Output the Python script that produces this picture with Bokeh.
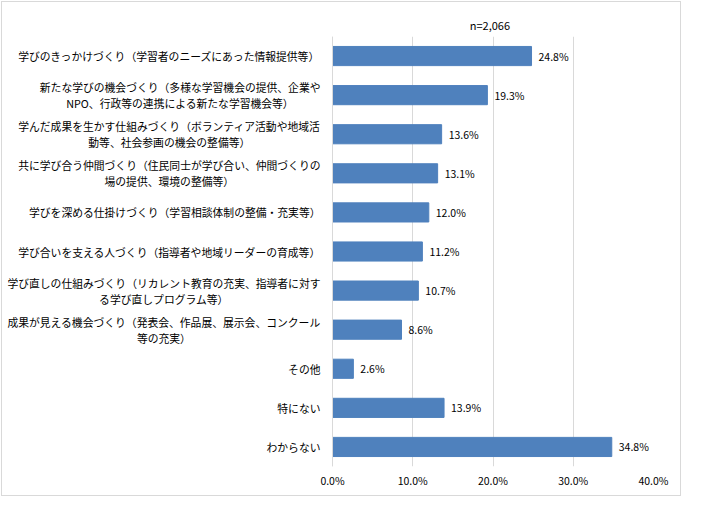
import unicodedata
from bokeh.plotting import figure
from bokeh.models import (ColumnDataSource, LabelSet, Label, Span, FactorRange,
                          FixedTicker, PrintfTickFormatter, Range1d)
from bokeh.core.properties import value
from bokeh.embed import file_html
from bokeh.resources import INLINE

# ---------------- data ----------------
categories = [
    "学びのきっかけづくり（学習者のニーズにあった情報提供等）",
    "新たな学びの機会づくり（多様な学習機会の提供、企業や\nNPO、行政等の連携による新たな学習機会等）",
    "学んだ成果を生かす仕組みづくり（ボランティア活動や地域活\n動等、社会参画の機会の整備等）",
    "共に学び合う仲間づくり（住民同士が学び合い、仲間づくりの\n場の提供、環境の整備等）",
    "学びを深める仕掛けづくり（学習相談体制の整備・充実等）",
    "学び合いを支える人づくり（指導者や地域リーダーの育成等）",
    "学び直しの仕組みづくり（リカレント教育の充実、指導者に対す\nる学び直しプログラム等）",
    "成果が見える機会づくり（発表会、作品展、展示会、コンクール\n等の充実）",
    "その他",
    "特にない",
    "わからない",
]
values = [24.8, 19.3, 13.6, 13.1, 12.0, 11.2, 10.7, 8.6, 2.6, 13.9, 34.8]
x_ticks = [0, 10, 20, 30, 40]
x_max = 40
title_text = "n=2,066"

# ---------------- style / layout ----------------
FONT = "Noto Sans CJK JP"
CAT_FS = 10.8
NUM_FS = "10.5px"
TITLE_FS = 11
BAR_COLOR = "#4F81BD"
GRID_COLOR = "#D9D9D9"

W, H = 680, 495
LABEL_AREA = 330      # px left of the value axis reserved for category labels
PLOT_W = 321          # px width of the 0..40% area
RIGHT = W - LABEL_AREA - PLOT_W


def text_width(s, fs, half=0.55):
    w = 0.0
    for c in s:
        w += fs if unicodedata.east_asian_width(c) in ("W", "F") else half * fs
    return w


# the frame also covers the label area, so labels are not clipped
x_start = -x_max * LABEL_AREA / PLOT_W

p = figure(
    width=W, height=H,
    x_range=Range1d(x_start, x_max),
    y_range=FactorRange(factors=list(reversed(categories)), range_padding=0),
    output_backend="svg", toolbar_location=None,
    min_border_left=0, min_border_right=RIGHT,
    min_border_top=34, min_border_bottom=31,
    title=title_text,
)
p.styles = {"margin-left": "1px", "margin-top": "1px",
            "border": "1px solid #D9D9D9"}
p.outline_line_color = None
p.background_fill_color = "white"
p.border_fill_color = "white"

src = ColumnDataSource(dict(
    cat=categories, val=values,
    lbl=[f"{v:.1f}%" for v in values],
))

p.hbar(y="cat", left=0, right="val", height=0.49, source=src,
       fill_color=BAR_COLOR, line_color=BAR_COLOR)

# grid & axes
p.ygrid.grid_line_color = None
p.xgrid.grid_line_color = GRID_COLOR
p.xgrid.ticker = FixedTicker(ticks=x_ticks)
p.yaxis.visible = False
p.add_layout(Span(location=0, dimension="height", line_color=GRID_COLOR, line_width=1))

xa = p.xaxis[0]
xa.ticker = FixedTicker(ticks=x_ticks)
xa.formatter = PrintfTickFormatter(format="%.1f%%")
xa.axis_line_color = None
xa.major_tick_line_color = None
xa.minor_tick_line_color = None
xa.major_tick_out = 0
xa.major_tick_in = 0
xa.major_label_standoff = 6
xa.major_label_text_font = FONT
xa.major_label_text_font_size = NUM_FS
xa.major_label_text_color = "black"

p.title.text_font = FONT
p.title.text_font_size = f"{TITLE_FS}px"
p.title.text_font_style = "normal"
p.title.align = "left"
p.title.text_color = "black"
p.title.standoff = 8
# centre the title over the 0..40% area
p.title.offset = LABEL_AREA + PLOT_W / 2 - text_width(title_text, TITLE_FS, 0.5) / 2 - 4

# value labels
p.add_layout(LabelSet(x="val", y="cat", text="lbl", source=src, x_offset=7,
                      text_align="left", text_baseline="middle",
                      text_font=value(FONT), text_font_size=value(NUM_FS),
                      text_color="black"))

# category labels (Excel-like: block right-aligned, lines centred)
n = len(categories)
for i, cat in enumerate(categories):
    yc = n - i - 0.5  # centre of the factor's band in synthetic coordinates
    lines = cat.split("\n")
    common = dict(x=0, y=yc, text_baseline="middle", text_font=FONT,
                  text_font_size=f"{CAT_FS}px", text_color="black")
    if len(lines) == 1:
        p.add_layout(Label(text=lines[0], x_offset=-12, y_offset=0,
                           text_align="right", **common))
    else:
        w1 = text_width(lines[0], CAT_FS)
        p.add_layout(Label(text=lines[0], x_offset=-12, y_offset=8,
                           text_align="right", **common))
        p.add_layout(Label(text=lines[1], x_offset=-12 - w1 / 2, y_offset=-8,
                           text_align="center", **common))

open("out.html", "w").write(file_html(p, INLINE))
